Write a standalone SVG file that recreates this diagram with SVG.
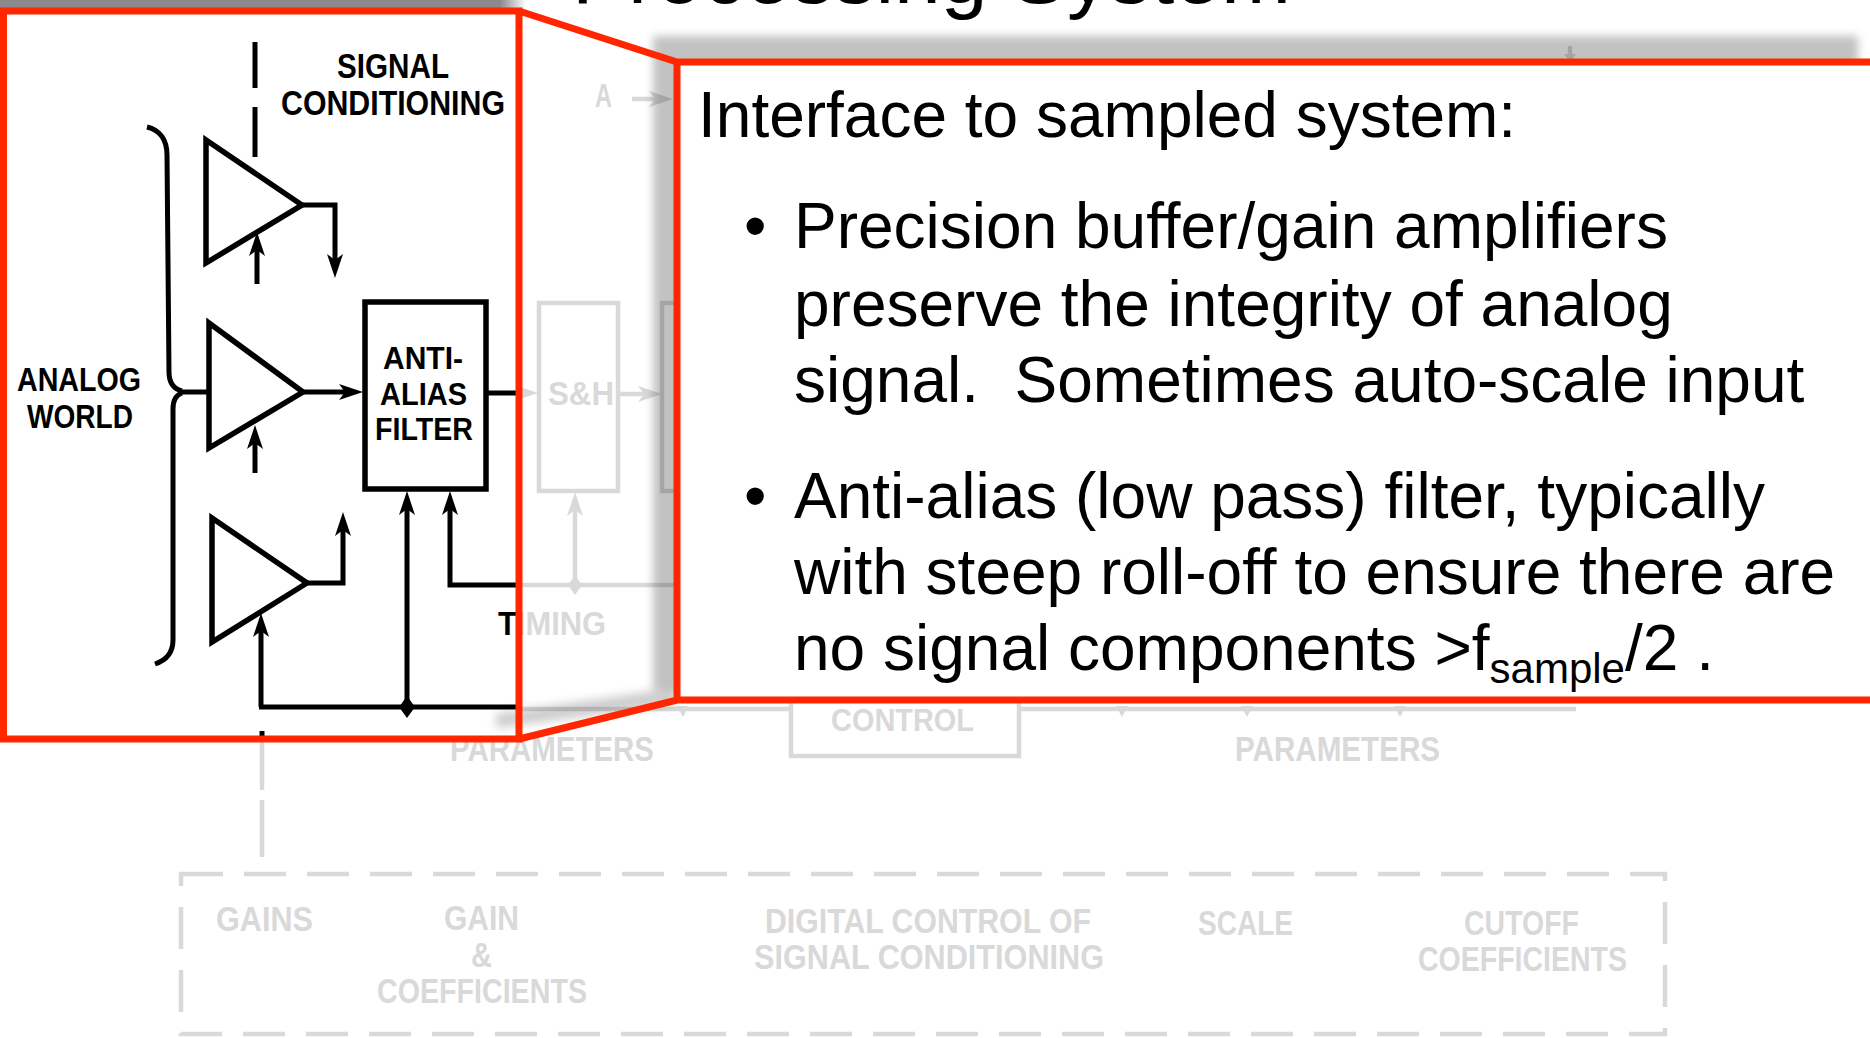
<svg xmlns="http://www.w3.org/2000/svg" width="1870" height="1038" viewBox="0 0 1870 1038">
<style>
.ink{fill:none;stroke:#000;stroke-width:5;stroke-linejoin:miter}
.amp{fill:none;stroke:#000;stroke-width:5.5;stroke-linejoin:miter}
.fd{fill:none;stroke:#d9d9d9;stroke-width:4.5}
.dot{fill:#000}
.fdot{fill:#d9d9d9}
.lbl{font-family:"Liberation Sans",Arial,sans-serif;font-weight:700;fill:#000}
.flbl{font-family:"Liberation Sans",Arial,sans-serif;font-weight:700;fill:#d9d9d9}
.body{font-family:"Liberation Sans",Arial,Helvetica,sans-serif;font-size:64px;fill:#000}
.red{fill:none;stroke:#ff2600;stroke-width:7;stroke-linejoin:miter}
.ka{marker-end:url(#ahK)}
.fa{marker-end:url(#ahF)}
</style>
<defs>
<marker id="ahK" viewBox="0 0 24 16" refX="6" refY="8" markerWidth="24" markerHeight="16" markerUnits="userSpaceOnUse" orient="auto">
<path d="M0,0 L24,8 L0,16 L6,8 Z" fill="#000"/>
</marker>
<marker id="ahF" viewBox="0 0 24 16" refX="6" refY="8" markerWidth="24" markerHeight="16" markerUnits="userSpaceOnUse" orient="auto">
<path d="M0,0 L24,8 L0,16 L6,8 Z" fill="#d9d9d9"/>
</marker>
<filter id="blur4" x="-5%" y="-10%" width="110%" height="120%">
<feGaussianBlur stdDeviation="4"/>
</filter>
<filter id="blur5" x="-20%" y="-100%" width="140%" height="300%">
<feGaussianBlur stdDeviation="5"/>
</filter>
<linearGradient id="barEnd" x1="0" y1="0" x2="1" y2="0">
<stop offset="0" stop-color="#8a8a8a"/>
<stop offset="1" stop-color="#8a8a8a" stop-opacity="0"/>
</linearGradient>
</defs>

<rect x="0" y="0" width="1870" height="1038" fill="#fff"/>

<g id="title">
<rect x="0" y="0" width="500" height="8" fill="#8a8a8a"/>
<rect x="500" y="0" width="26" height="8" fill="url(#barEnd)"/>
<text x="572" y="3" font-family="Liberation Sans, Arial, sans-serif" font-size="84" fill="#000">Processing System</text>
</g>

<g id="faded-diagram">
<g id="faded-connectors">
<path class="fd fa" d="M632,99 L655,99"/>
<path class="fd fa" d="M516,393 L520,393"/>
<path class="fd fa" d="M618,394 L644,394"/>
<path class="fd fa" d="M575,585 L575,510"/>
<path class="fd" d="M519,585 L690,585"/>
<polygon class="fdot" points="575,575 582,585 575,595 568,585"/>
<path class="fd" d="M519,709 L791,709"/>
<path class="fd" d="M1019,709 L1576,709"/>
<polygon class="fdot" points="677,706 689,706 683,717"/>
<polygon class="fdot" points="1116,706 1128,706 1122,717"/>
<polygon class="fdot" points="1241,706 1253,706 1247,717"/>
<polygon class="fdot" points="1394,706 1406,706 1400,717"/>
<path class="fd" d="M262,742 L262,790 M262,800 L262,857"/>
<path class="fd" d="M1570,46 L1570,56"/>
<polygon class="fdot" points="1564,54 1576,54 1570,62"/>
</g>
<g id="faded-a"><text class="flbl" x="595" y="107" font-size="33" textLength="17" lengthAdjust="spacingAndGlyphs">A</text></g>
<g id="faded-sh">
<rect class="fd" x="539" y="303" width="79" height="188"/>
<text class="flbl" x="548" y="405" font-size="33" textLength="66" lengthAdjust="spacingAndGlyphs">S&amp;H</text>
</g>
<g id="faded-next"><rect class="fd" x="662" y="303" width="100" height="188"/></g>
<g id="faded-control">
<rect class="fd" x="791" y="640" width="228" height="116"/>
<text class="flbl" x="831" y="731" font-size="31" textLength="143" lengthAdjust="spacingAndGlyphs">CONTROL</text>
</g>
<text class="flbl" x="450" y="761" font-size="35" textLength="204" lengthAdjust="spacingAndGlyphs">PARAMETERS</text>
<text class="flbl" x="1235" y="761" font-size="35" textLength="205" lengthAdjust="spacingAndGlyphs">PARAMETERS</text>
<g id="faded-digital-control">
<rect class="fd" x="181" y="874" width="1484" height="160" stroke-dasharray="42 21"/>
<text class="flbl" x="216" y="931" font-size="35" textLength="97" lengthAdjust="spacingAndGlyphs">GAINS</text>
<text class="flbl" x="444" y="930" font-size="35" textLength="75" lengthAdjust="spacingAndGlyphs">GAIN</text>
<text class="flbl" x="471" y="967" font-size="35" textLength="21" lengthAdjust="spacingAndGlyphs">&amp;</text>
<text class="flbl" x="377" y="1003" font-size="35" textLength="210" lengthAdjust="spacingAndGlyphs">COEFFICIENTS</text>
<text class="flbl" x="765" y="933" font-size="35" textLength="326" lengthAdjust="spacingAndGlyphs">DIGITAL CONTROL OF</text>
<text class="flbl" x="754" y="969" font-size="35" textLength="350" lengthAdjust="spacingAndGlyphs">SIGNAL CONDITIONING</text>
<text class="flbl" x="1198" y="935" font-size="35" textLength="95" lengthAdjust="spacingAndGlyphs">SCALE</text>
<text class="flbl" x="1464" y="935" font-size="35" textLength="115" lengthAdjust="spacingAndGlyphs">CUTOFF</text>
<text class="flbl" x="1418" y="971" font-size="35" textLength="209" lengthAdjust="spacingAndGlyphs">COEFFICIENTS</text>
</g>
</g>

<rect x="3.5" y="11" width="515.5" height="728" fill="#fff"/>

<g id="signal-conditioning">
<g id="labels">
<text class="lbl" x="337" y="78" font-size="35" textLength="112" lengthAdjust="spacingAndGlyphs">SIGNAL</text>
<text class="lbl" x="281" y="115" font-size="35" textLength="224" lengthAdjust="spacingAndGlyphs">CONDITIONING</text>
<text class="lbl" x="17" y="391" font-size="33" textLength="124" lengthAdjust="spacingAndGlyphs">ANALOG</text>
<text class="lbl" x="27" y="428" font-size="33" textLength="106" lengthAdjust="spacingAndGlyphs">WORLD</text>
<text class="lbl" x="498" y="635" font-size="33" textLength="108" lengthAdjust="spacingAndGlyphs"><tspan fill="#000">T</tspan><tspan fill="#d9d9d9">IMING</tspan></text>
</g>
<g id="amp-1"><polygon class="amp" points="206,140 302,205 206,263"/></g>
<g id="amp-2"><polygon class="amp" points="209,323 303,392 209,448"/></g>
<g id="amp-3"><polygon class="amp" points="212,518 307,583 212,642"/></g>
<g id="anti-alias-filter">
<rect class="amp" x="365" y="302" width="121" height="187"/>
<text class="lbl" x="383" y="369" font-size="32" textLength="80" lengthAdjust="spacingAndGlyphs">ANTI-</text>
<text class="lbl" x="380" y="405" font-size="32" textLength="87" lengthAdjust="spacingAndGlyphs">ALIAS</text>
<text class="lbl" x="375" y="440" font-size="32" textLength="98" lengthAdjust="spacingAndGlyphs">FILTER</text>
</g>
<g id="connectors">
<path class="ink" d="M255,42 L255,88 M255,107 L255,157" stroke-width="3.5"/>
<path class="ink" d="M147,127 C160,130 167,140 167,155 L169,372 C169,383 174,389 182,391"/>
<path class="ink" d="M182,393 C176,395 173,401 173,409 L173,640 C173,652 167,660 155,664"/>
<path class="ink" d="M180,392 L209,392"/>
<path class="ink ka" d="M302,205 L335,205 L335,260"/>
<path class="ink ka" d="M257,284 L257,250"/>
<path class="ink ka" d="M303,392 L345,392"/>
<path class="ink ka" d="M255,473 L255,443"/>
<path class="ink ka" d="M307,583 L343,583 L343,530"/>
<path class="ink ka" d="M261,707 L261,631"/>
<path class="ink" d="M259,707 L519,707"/>
<polygon class="dot" points="407,696 415,707 407,718 399,707"/>
<path class="ink ka" d="M407,707 L407,509"/>
<path class="ink ka" d="M519,585 L450,585 L450,509"/>
<path class="ink" d="M486,393 L519,393"/>
<path class="ink" d="M262,731 L262,740" stroke-width="3.5"/>
</g>
</g>

<g id="shadows">
<rect x="653" y="36" width="1205" height="654" fill="#000" fill-opacity="0.24" filter="url(#blur4)"/>
<polygon points="496,714 676,688 676,704 496,728" fill="#000" fill-opacity="0.2" filter="url(#blur5)"/>
</g>

<g id="callout">
<rect x="677" y="62" width="1210" height="638" fill="#fff"/>
<text class="body" x="698" y="137">Interface to sampled system:</text>
<text class="body" x="744" y="248">•</text>
<text class="body" x="794" y="248">Precision buffer/gain amplifiers</text>
<text class="body" x="794" y="326">preserve the integrity of analog</text>
<text class="body" x="794" y="402" xml:space="preserve">signal.  Sometimes auto-scale input</text>
<text class="body" x="744" y="518">•</text>
<text class="body" x="794" y="518">Anti-alias (low pass) filter, typically</text>
<text class="body" x="794" y="594">with steep roll-off to ensure there are</text>
<text class="body" x="794" y="670">no signal components &gt;f<tspan font-size="42" dy="13">sample</tspan><tspan dy="-13">/2 .</tspan></text>
</g>

<g id="zoom-frame">
<rect class="red" x="3.5" y="11" width="515.5" height="728"/>
<path class="red" d="M519,11 L677,62 L1880,62 M519,739 L677,700 L1880,700 M677,62 L677,700"/>
</g>
</svg>
